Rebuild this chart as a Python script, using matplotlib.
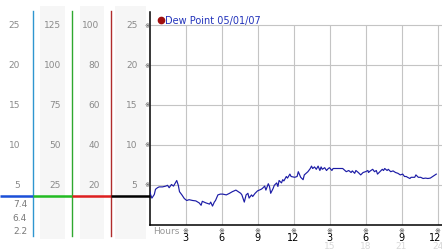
import matplotlib
matplotlib.use("Agg")
import matplotlib.pyplot as plt
from matplotlib import transforms
from matplotlib.patches import Rectangle
from matplotlib.lines import Line2D

W, H = 442, 253

# dew point trace (hours since start, value on main scale)
hours = [0.0, 0.1, 0.2, 0.4, 0.5, 0.67, 0.8, 1.08, 1.36, 1.5, 1.64, 1.83, 2.0, 2.2,
         2.27, 2.4, 2.5, 2.7, 2.9, 3.1, 3.3, 3.6, 3.86, 4.14, 4.3, 4.4, 4.7, 5.0,
         5.1, 5.25, 5.4, 5.5, 5.7, 5.9, 6.1, 6.4, 6.67, 6.9, 7.2, 7.3, 7.6, 7.7,
         7.8, 7.9, 8.05, 8.2, 8.3, 8.5, 8.6, 8.8, 9.0, 9.3, 9.4, 9.6, 9.7, 9.9,
         10.0, 10.1, 10.3, 10.4, 10.6, 10.7, 10.8, 11.0, 11.1, 11.2, 11.4, 11.5,
         11.7, 11.8, 12.1, 12.3, 12.4, 12.6, 12.8, 12.9, 13.2, 13.4, 13.5, 13.6,
         13.75, 13.9, 14.05, 14.2, 14.3, 14.4, 14.6, 14.75, 14.9, 15.0, 15.2, 15.3,
         15.7, 16.1, 16.4, 16.6, 16.8, 16.9, 17.1, 17.2, 17.4, 17.6, 17.8, 18.0,
         18.2, 18.25, 18.4, 18.6, 18.75, 18.9, 19.0, 19.2, 19.4, 19.5, 19.6, 19.8,
         19.9, 20.1, 20.3, 20.5, 20.7, 20.9, 21.1, 21.25, 21.4, 21.5, 21.7, 21.8,
         22.1, 22.2, 22.4, 22.6, 22.8, 23.0, 23.2, 23.4, 23.6, 23.8, 23.9]
dew_point = [4.3, 3.7, 3.3, 3.75, 4.4, 4.6, 4.7, 4.7, 4.8, 4.9, 4.6, 5.0, 4.8, 5.3,
             5.5, 4.9, 4.1, 3.7, 3.25, 3.0, 3.1, 3.0, 2.95, 2.7, 2.4, 2.9, 2.7, 2.55,
             2.8, 2.3, 2.8, 3.0, 3.7, 3.8, 3.8, 3.7, 3.9, 4.1, 4.3, 4.2, 3.9, 3.7,
             3.25, 2.8, 3.7, 3.9, 3.3, 3.7, 3.5, 3.9, 4.2, 4.4, 4.5, 4.8, 4.3, 5.1,
             4.75, 3.9, 4.5, 4.9, 5.2, 4.75, 5.5, 5.2, 5.6, 5.45, 6.0, 5.8,
             6.3, 6.0, 5.9, 6.0, 6.6, 5.9, 5.6, 6.2, 6.6, 7.0, 7.3, 7.0,
             7.2, 6.9, 7.3, 6.75, 7.2, 6.9, 7.1, 6.75, 7.0, 7.1, 6.75, 7.0,
             7.0, 7.0, 6.6, 6.75, 6.5, 6.7, 6.4, 6.75, 6.5, 6.2, 6.5, 6.6,
             6.75, 6.5, 6.7, 6.9, 6.6, 6.75, 6.3, 6.6, 6.9, 6.75, 7.0, 6.75,
             6.9, 6.6, 6.7, 6.5, 6.4, 6.2, 6.3, 6.0, 6.0, 5.9, 5.75, 5.9,
             5.9, 6.2, 5.9, 5.9, 5.75, 5.8, 5.75, 5.8, 6.0, 6.2, 6.3]

grid_levels = [25, 20, 15, 10, 5]
hour_ticks = [3, 6, 9, 12, 15, 18, 21, 24]
hour_labels = ["3", "6", "9", "12", "3", "6", "9", "12"]
hour_labels_24 = ["", "", "", "", "15", "18", "21", "24"]
scale_a = ["25", "20", "15", "10", "5"]
scale_b = ["125", "100", "75", "50", "25"]
scale_c = ["100", "80", "60", "40", "20"]
scale_d = ["25", "20", "15", "10", "5"]
readings = ["7.4", "6.4", "2.2"]
current_level = 3.6
legend_label = "Dew Point 05/01/07"


def fx(px):
    return px / W


def fy(py):
    return 1 - py / H


fig = plt.figure(figsize=(W / 100, H / 100), dpi=100)
fig.patch.set_facecolor("white")

# main plot, 12 px per hour and 8 px per unit
ax = fig.add_axes([fx(149.5), fy(225.5), fx(442 - 149.5), (225.5 - 13) / H])
ax.set_xlim(0, (442 - 149.5) / 12)
ax.set_ylim(0, (225.5 - 13) / 8)
ax.set_facecolor("none")
for s in ["top", "right"]:
    ax.spines[s].set_visible(False)
for s in ["left", "bottom"]:
    ax.spines[s].set_linewidth(1.1)
    ax.spines[s].set_color("black")
ax.set_xticks([])
ax.set_yticks([])

ax.hlines(grid_levels, 0, ax.get_xlim()[1], color="#c4c4c4", lw=0.8, zorder=1)
ax.vlines(hour_ticks, 0, 25, color="#c4c4c4", lw=0.8, zorder=1)
ax.plot(hours, dew_point, color="#1c1ca6", lw=0.85, zorder=3)

tx = transforms.blended_transform_factory(ax.transData, fig.transFigure)
ty = transforms.blended_transform_factory(fig.transFigure, ax.transData)

# side scale strips
for x0, x1 in [(40, 65), (80, 104), (115, 146)]:
    fig.add_artist(Rectangle((fx(x0), fy(240)), fx(x1 - x0), (240 - 7) / H,
                             transform=fig.transFigure, color="#f6f6f6", lw=0, zorder=0))
for x, c in [(33, "#2f96d0"), (72, "#2fa82f"), (111, "#b02c2c")]:
    fig.add_artist(Line2D([fx(x), fx(x)], [fy(12), fy(237)], transform=fig.transFigure,
                          color=c, lw=1.0, zorder=2))
for (x0, x1), c in zip([(0, 33), (33, 72), (72, 111), (111, 149.5)],
                       ["#1a4fd8", "#22bb22", "#dd1f1f", "black"]):
    fig.add_artist(Line2D([fx(x0), fx(x1)], [current_level, current_level], transform=ty,
                          color=c, lw=1.8, solid_capstyle="butt", zorder=3))

for labels, xr in [(scale_a, 20), (scale_b, 61), (scale_c, 99.5), (scale_d, 137.5)]:
    for lvl, lab in zip(grid_levels, labels):
        fig.text(fx(xr), lvl, lab, transform=ty, ha="right", va="center",
                 fontsize=6.5, color="#8a8a8a")
for py, lab in zip([204.5, 218.5, 232], readings):
    fig.text(fx(27), fy(py), lab, ha="right", va="center", fontsize=6.5, color="#7a7a7a")

# small tick marks
for lvl in grid_levels:
    fig.text(fx(147), lvl, "\u203b", transform=ty, ha="center", va="center",
             fontsize=5, color="#444444")
for h, lab, lab24 in zip(hour_ticks, hour_labels, hour_labels_24):
    fig.text(h, fy(231), "\u203b", transform=tx, ha="center", va="center",
             fontsize=5, color="#444444")
    last = h == hour_ticks[-1]
    fig.text(fx(441.5) if last else h, fy(238), lab,
             transform=fig.transFigure if last else tx,
             ha="right" if last else "center", va="center",
             fontsize=7, color="black")
    fig.text(h, fy(246.5), lab24, transform=tx, ha="center", va="center",
             fontsize=6.5, color="#d8d8d8")
fig.text(fx(153), fy(231.5), "Hours", ha="left", va="center", fontsize=6.5, color="#999999")

# legend
fig.add_artist(Line2D([fx(160.5)], [fy(21)], transform=fig.transFigure, marker="o",
                      markersize=4.5, color="#a01010", lw=0))
fig.text(fx(165), fy(21), legend_label, ha="left", va="center", fontsize=7,
         color="#2233bb")

fig.savefig("out.png", dpi=100)
